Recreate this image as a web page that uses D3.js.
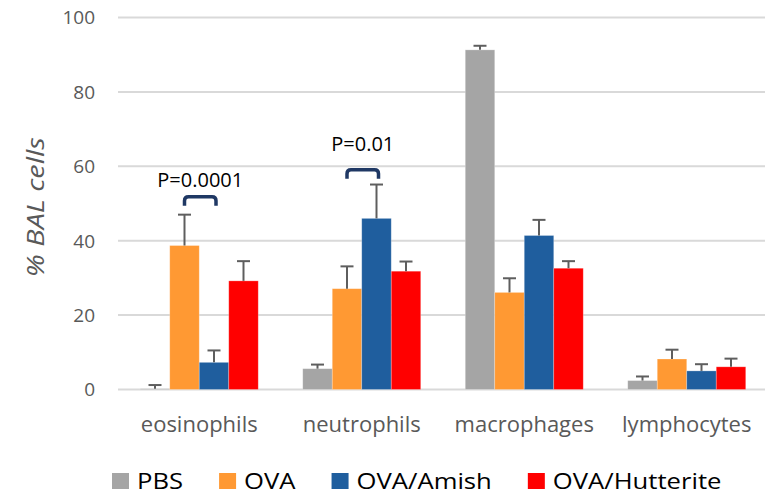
<!DOCTYPE html>
<html>
<head>
<meta charset="utf-8">
<script src="https://cdn.jsdelivr.net/npm/d3@7"></script>
<style>
  html, body { margin: 0; padding: 0; background: #fff; }
  svg { display: block; font-family: "Open Sans", "Noto Sans", sans-serif; }
</style>
</head>
<body>
<svg id="chart" width="765" height="496"></svg>
<script>
// Cell types on the x axis
const categories = ["eosinophils", "neutrophils", "macrophages", "lymphocytes"];

// Treatment groups (legend order)
const seriesNames = ["PBS", "OVA", "OVA/Amish", "OVA/Hutterite"];
const seriesColors = ["#A5A5A5", "#FF9933", "#1F5E9E", "#FF0000"];

// Mean % of BAL cells per group, one value per cell type
const pbsValues = [0.2, 5.6, 91.3, 2.4];
const ovaValues = [38.7, 27.1, 26.1, 8.2];
const amishValues = [7.3, 46.0, 41.4, 5.0];
const hutteriteValues = [29.2, 31.8, 32.6, 6.1];

// Upper error (SEM) per group
const pbsErrors = [1.0, 1.1, 1.1, 1.1];
const ovaErrors = [8.3, 6.0, 3.8, 2.5];
const amishErrors = [3.2, 9.1, 4.2, 1.8];
const hutteriteErrors = [5.3, 2.6, 1.9, 2.2];

// y axis ticks
const yTicks = [0, 20, 40, 60, 80, 100];

// Significance brackets between OVA and OVA/Amish
const compCategories = ["eosinophils", "neutrophils"];
const compLabels = ["P=0.0001", "P=0.01"];
const compBracketLevels = [51.8, 59.1];
const compLabelLevels = [54.4, 64.2];

const values = [pbsValues, ovaValues, amishValues, hutteriteValues];
const errors = [pbsErrors, ovaErrors, amishErrors, hutteriteErrors];

const svg = d3.select("#chart");
const plotLeft = 118, plotRight = 765;

const x0 = d3.scaleBand().domain(categories).range([plotLeft, plotLeft + 650]).padding(0);
const groupWidth = 118;
const x1 = d3.scaleBand().domain(seriesNames).range([0, groupWidth]).padding(0);
const groupOffset = (x0.bandwidth() - groupWidth) / 2;
const y = d3.scaleLinear().domain([0, 100]).range([389.5, 17.5]);

// Gridlines
svg.append("g").selectAll("line").data(yTicks).join("line")
  .attr("x1", plotLeft).attr("x2", plotRight)
  .attr("y1", d => y(d)).attr("y2", d => y(d))
  .attr("stroke", "#D9D9D9").attr("stroke-width", 2);

// y tick labels
svg.append("g").selectAll("text").data(yTicks).join("text")
  .attr("x", 95).attr("y", d => y(d)).attr("dy", "0.36em")
  .attr("text-anchor", "end")
  .attr("font-size", 19).attr("fill", "#595959")
  .text(d => d);

// y axis title
svg.append("text")
  .attr("transform", `translate(44, ${y(49)}) rotate(-90)`)
  .attr("text-anchor", "middle")
  .attr("font-size", 24).attr("font-style", "italic").attr("fill", "#595959")
  .attr("textLength", 140).attr("lengthAdjust", "spacingAndGlyphs")
  .text("% BAL cells");

// Flatten to bar records
const bars = [];
seriesNames.forEach((s, si) => {
  categories.forEach((c, ci) => {
    bars.push({ series: s, cat: c, value: values[si][ci], err: errors[si][ci], color: seriesColors[si] });
  });
});
const barX = d => x0(d.cat) + groupOffset + x1(d.series);

// Bars
svg.append("g").selectAll("rect").data(bars).join("rect")
  .attr("x", barX)
  .attr("y", d => y(d.value))
  .attr("width", x1.bandwidth())
  .attr("height", d => y(0) - y(d.value))
  .attr("fill", d => d.color)
  .attr("stroke", "#ffffff").attr("stroke-opacity", 0.35).attr("stroke-width", 0.75);

// Error bars (upper only)
const capW = 13;
const eb = svg.append("g").attr("stroke", "#5E5E5E").attr("stroke-width", 2);
eb.selectAll("line.v").data(bars).join("line").attr("class", "v")
  .attr("x1", d => barX(d) + x1.bandwidth() / 2).attr("x2", d => barX(d) + x1.bandwidth() / 2)
  .attr("y1", d => y(d.value)).attr("y2", d => y(d.value + d.err));
eb.selectAll("line.c").data(bars).join("line").attr("class", "c")
  .attr("x1", d => barX(d) + x1.bandwidth() / 2 - capW / 2)
  .attr("x2", d => barX(d) + x1.bandwidth() / 2 + capW / 2)
  .attr("y1", d => y(d.value + d.err)).attr("y2", d => y(d.value + d.err));

// Category labels
svg.append("g").selectAll("text").data(categories).join("text")
  .attr("x", d => x0(d) + x0.bandwidth() / 2).attr("y", 432)
  .attr("text-anchor", "middle")
  .attr("font-size", 22).attr("fill", "#595959")
  .text(d => d);

// Significance brackets
const comps = compCategories.map((c, i) => ({ cat: c, label: compLabels[i], level: compBracketLevels[i], labelLevel: compLabelLevels[i] }));
const brH = 9, r = 4;
const cg = svg.append("g");
comps.forEach(d => {
  const xa = x0(d.cat) + groupOffset + x1("OVA") + x1.bandwidth() / 2;
  const xb = x0(d.cat) + groupOffset + x1("OVA/Amish") + x1.bandwidth() / 2 + 2;
  const yt = y(d.level);
  const p = `M${xa},${yt + brH} L${xa},${yt + r} Q${xa},${yt} ${xa + r},${yt} L${xb - r},${yt} Q${xb},${yt} ${xb},${yt + r} L${xb},${yt + brH}`;
  cg.append("path").attr("d", p).attr("fill", "none")
    .attr("stroke", "#1F3864").attr("stroke-width", 3.5);
  cg.append("text")
    .attr("x", (xa + xb) / 2).attr("y", y(d.labelLevel))
    .attr("text-anchor", "middle").attr("font-size", 20).attr("fill", "#000")
    .text(d.label);
});

// Legend
const lg = svg.append("g");
let lx = 112;
seriesNames.forEach((s, i) => {
  lg.append("rect").attr("x", lx).attr("y", 473).attr("width", 17).attr("height", 16)
    .attr("fill", seriesColors[i]);
  const t = lg.append("text").attr("x", lx + 25).attr("y", 489)
    .attr("font-size", 22.5).attr("fill", "#000").text(s);
  const w = t.node().getComputedTextLength() * 1.14;
  t.attr("textLength", w).attr("lengthAdjust", "spacingAndGlyphs");
  lx += 25 + w + 36;
});
</script>
</body>
</html>
